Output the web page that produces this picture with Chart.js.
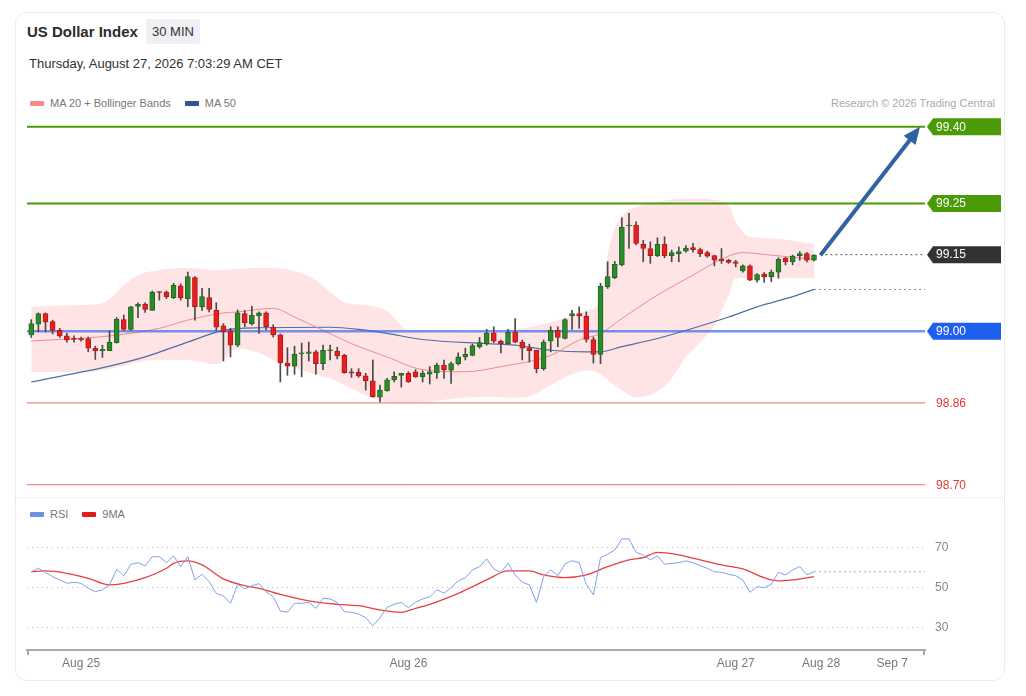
<!DOCTYPE html>
<html lang="en">
<head>
<meta charset="UTF-8">
<title>US Dollar Index</title>
<script src="https://cdn.jsdelivr.net/npm/chart.js@4.4.1/dist/chart.umd.min.js"></script>
<style>
  body { margin: 0; background: #fff; font-family: "Liberation Sans", Arial, sans-serif; color: #333; }
  .card { position: absolute; left: 15px; top: 12px; width: 988px; height: 667px; border: 1px solid #ececec; border-radius: 12px; }
  .title { position: absolute; left: 27px; top: 23px; font-size: 15px; font-weight: bold; line-height: 18px; color: #2b2b2b; }
  .badge { position: absolute; left: 146px; top: 19px; width: 54px; height: 25px; line-height: 25px; text-align: center; font-size: 13px; background: #eef0f3; border-radius: 2px; }
  .date { position: absolute; left: 29px; top: 56px; font-size: 13px; line-height: 16px; }
  .legend { position: absolute; font-size: 11px; line-height: 12px; color: #777; white-space: nowrap; }
  .legend i { display: inline-block; width: 14px; height: 5px; border-radius: 1px; vertical-align: middle; margin: -2px 6px 0 0; }
  .credit { position: absolute; right: 31px; top: 97px; font-size: 11px; line-height: 12px; color: #aaa; }
  .sep { position: absolute; left: 15px; top: 497px; width: 990px; border-top: 1px dotted #e2e2e2; }
  canvas { position: absolute; left: 0; }
  #price { top: 110px; }
  #rsi { top: 498px; }
</style>
</head>
<body>
  <div class="card"></div>
  <div class="title">US Dollar Index</div>
  <div class="badge">30 MIN</div>
  <div class="date">Thursday, August 27, 2026 7:03:29 AM CET</div>
  <div class="legend" style="left:30px; top:97px;"><i style="background:#f28b8b"></i>MA 20 + Bollinger Bands<i style="background:#2f5597; margin-left:14px"></i>MA 50</div>
  <div class="credit">Research © 2026 Trading Central</div>
  <div class="sep"></div>
  <div class="legend" style="left:30px; top:508px;"><i style="background:#6f8fe6"></i>RSI<i style="background:#e41a1a; margin-left:14px"></i>9MA</div>

  <canvas id="price" width="1026" height="388"></canvas>
  <canvas id="rsi" width="1026" height="180"></canvas>

<script>
// 30 min candles, index 0 .. 110
const opens = [
  98.993, 99.014, 99.035, 99.019, 99.002, 98.991, 98.987, 98.986, 98.986, 98.967,
  98.962, 98.962, 98.978, 99.023, 99.004, 99.049, 99.053, 99.041, 99.077, 99.077,
  99.066, 99.089, 99.064, 99.105, 99.048, 99.066, 99.041, 99.011, 99.001, 98.973,
  99.035, 99.015, 99.030, 99.036, 99.008, 98.993, 98.938, 98.932, 98.956, 98.957,
  98.960, 98.937, 98.962, 98.961, 98.953, 98.921, 98.920, 98.913, 98.903, 98.871,
  98.884, 98.905, 98.914, 98.918, 98.921, 98.911, 98.916, 98.919, 98.934, 98.924,
  98.937, 98.950, 98.953, 98.970, 98.976, 98.997, 98.981, 98.976, 98.998, 98.979,
  98.968, 98.963, 98.927, 98.981, 99.002, 98.986, 99.030, 99.035, 99.030, 98.984,
  98.955, 99.087, 99.105, 99.130, 99.206, 99.208, 99.170, 99.162, 99.148, 99.170,
  99.148, 99.152, 99.157, 99.164, 99.160, 99.154, 99.148, 99.141, 99.139, 99.136,
  99.118, 99.128, 99.100, 99.112, 99.107, 99.116, 99.143, 99.136, 99.148, 99.152,
  99.139
];
const highs = [
  99.023, 99.036, 99.036, 99.022, 99.006, 98.996, 98.991, 98.989, 98.989, 98.971,
  98.973, 99.001, 99.027, 99.032, 99.049, 99.056, 99.056, 99.079, 99.078, 99.079,
  99.094, 99.093, 99.116, 99.107, 99.084, 99.084, 99.056, 99.015, 99.006, 99.042,
  99.041, 99.049, 99.038, 99.038, 99.013, 98.995, 98.968, 98.971, 98.977, 98.979,
  98.963, 98.973, 98.973, 98.969, 98.955, 98.927, 98.927, 98.918, 98.944, 98.895,
  98.908, 98.921, 98.918, 98.921, 98.925, 98.923, 98.931, 98.938, 98.944, 98.940,
  98.958, 98.967, 98.975, 98.988, 99.004, 99.009, 98.983, 99.004, 99.025, 98.983,
  98.975, 98.963, 98.983, 99.009, 99.009, 99.025, 99.041, 99.048, 99.038, 98.989,
  99.094, 99.136, 99.137, 99.222, 99.231, 99.214, 99.178, 99.175, 99.183, 99.185,
  99.159, 99.165, 99.168, 99.172, 99.163, 99.157, 99.149, 99.162, 99.141, 99.139,
  99.130, 99.130, 99.113, 99.115, 99.120, 99.144, 99.145, 99.149, 99.156, 99.154,
  99.150
];
const lows = [
  98.988, 98.999, 98.999, 98.995, 98.988, 98.979, 98.979, 98.981, 98.960, 98.945,
  98.949, 98.962, 98.977, 99.002, 99.002, 99.027, 99.037, 99.041, 99.061, 99.064,
  99.064, 99.061, 99.048, 99.022, 99.041, 99.038, 99.002, 98.942, 98.950, 98.970,
  99.009, 99.012, 98.996, 99.003, 98.989, 98.901, 98.914, 98.916, 98.911, 98.942,
  98.916, 98.925, 98.944, 98.946, 98.918, 98.910, 98.910, 98.885, 98.871, 98.862,
  98.883, 98.901, 98.891, 98.900, 98.910, 98.901, 98.897, 98.908, 98.908, 98.898,
  98.934, 98.944, 98.952, 98.967, 98.973, 98.978, 98.958, 98.975, 98.978, 98.944,
  98.940, 98.919, 98.924, 98.960, 98.970, 98.985, 99.004, 99.006, 98.979, 98.938,
  98.937, 99.084, 99.103, 99.128, 99.162, 99.169, 99.136, 99.133, 99.146, 99.144,
  99.136, 99.136, 99.155, 99.155, 99.146, 99.145, 99.128, 99.133, 99.133, 99.126,
  99.116, 99.099, 99.096, 99.096, 99.097, 99.104, 99.130, 99.130, 99.139, 99.136,
  99.138
];
const closes = [
  99.015, 99.035, 99.018, 99.002, 98.991, 98.983, 98.984, 98.983, 98.967, 98.962,
  98.965, 98.979, 99.024, 99.004, 99.048, 99.053, 99.043, 99.077, 99.076, 99.068,
  99.090, 99.066, 99.107, 99.048, 99.068, 99.043, 99.008, 98.999, 98.973, 99.036,
  99.017, 99.032, 99.036, 99.009, 98.993, 98.938, 98.932, 98.955, 98.957, 98.960,
  98.937, 98.963, 98.964, 98.952, 98.919, 98.918, 98.913, 98.903, 98.872, 98.885,
  98.905, 98.912, 98.918, 98.901, 98.911, 98.918, 98.921, 98.934, 98.925, 98.937,
  98.950, 98.955, 98.972, 98.978, 98.997, 98.981, 98.976, 98.998, 98.979, 98.967,
  98.962, 98.927, 98.979, 99.002, 98.988, 99.023, 99.035, 99.030, 98.984, 98.955,
  99.088, 99.107, 99.131, 99.204, 99.208, 99.172, 99.162, 99.148, 99.170, 99.148,
  99.154, 99.156, 99.163, 99.160, 99.152, 99.147, 99.139, 99.138, 99.135, 99.133,
  99.128, 99.100, 99.111, 99.107, 99.116, 99.141, 99.136, 99.147, 99.152, 99.139,
  99.149
];

// moving averages and bands, read at candle indices
const ma20Idx = [0, 11, 18, 22, 27, 29, 34, 37, 41, 45, 50, 55, 61, 66, 73, 77, 80, 83, 88, 93, 97, 100, 104, 110];
const ma20 = [98.981, 98.991, 99.006, 99.022, 99.036, 99.038, 99.045, 99.028, 99.002, 98.976, 98.950, 98.925,
              98.921, 98.931, 98.953, 98.983, 98.996, 99.025, 99.071, 99.110, 99.141, 99.154, 99.149, 99.141];
const ma50Idx = [0, 11, 16, 22, 27, 32, 42, 46, 50, 55, 64, 68, 73, 78, 80, 83, 88, 93, 98, 102, 107, 110];
const ma50 = [98.901, 98.932, 98.950, 98.979, 99.002, 99.007, 99.008, 99.004, 98.996, 98.984, 98.976,
              98.973, 98.963, 98.960, 98.960, 98.970, 98.986, 99.006, 99.028, 99.048, 99.068, 99.082];
const bandIdx = [0, 5, 10, 13, 15, 18, 22, 26, 29, 32, 35, 38, 40, 42, 44, 47, 50, 53, 56, 60, 64,
                 67, 70, 73, 76, 78, 80, 81, 82, 83, 85, 88, 90, 92, 94, 96, 98, 99, 101, 104, 107, 110];
const bandUpper = [99.048, 99.051, 99.055, 99.090, 99.110, 99.120, 99.124, 99.120, 99.122, 99.124,
                   99.123, 99.114, 99.100, 99.077, 99.057, 99.051, 99.040, 99.002, 99.000, 98.999,
                   98.998, 99.002, 99.008, 99.018, 99.030, 99.040, 99.061, 99.150, 99.200, 99.225,
                   99.243, 99.253, 99.258, 99.260, 99.260, 99.257, 99.247, 99.214, 99.185, 99.182,
                   99.177, 99.171];
const bandLower = [98.921, 98.920, 98.924, 98.932, 98.940, 98.944, 98.944, 98.936, 98.966, 98.958,
                   98.937, 98.924, 98.915, 98.908, 98.895, 98.875, 98.862, 98.861, 98.863, 98.869,
                   98.872, 98.870, 98.873, 98.895, 98.916, 98.924, 98.916, 98.905, 98.895, 98.885,
                   98.871, 98.883, 98.908, 98.950, 98.979, 99.012, 99.071, 99.104, 99.105, 99.104,
                   99.104, 99.104];

// RSI panel
const rsi = [
  57.8, 59.5, 57.5, 55.3, 53.7, 52.0, 52.5, 52.0, 49.5, 47.8,
  48.7, 51.2, 59.0, 55.7, 61.5, 62.3, 60.7, 65.3, 65.3, 62.3,
  65.7, 60.3, 65.3, 53.7, 56.5, 52.8, 47.0, 45.7, 42.0, 51.5,
  49.2, 50.8, 51.8, 47.8, 45.3, 38.2, 37.5, 42.0, 42.0, 42.5,
  39.5, 44.5, 44.2, 42.5, 37.8, 37.5, 36.7, 34.8, 30.8, 34.8,
  40.0, 41.5, 42.5, 39.8, 42.5, 44.2, 45.2, 48.8, 47.0, 49.8,
  53.2, 54.8, 58.7, 60.3, 64.2, 59.2, 57.5, 62.0, 56.2, 52.5,
  51.2, 42.5, 55.3, 58.7, 55.8, 61.7, 63.3, 62.3, 51.5, 46.2,
  64.8, 66.5, 68.7, 74.2, 74.2, 67.5, 66.2, 63.7, 65.7, 61.5,
  62.0, 62.3, 63.2, 62.3, 60.8, 59.5, 57.8, 57.5, 56.5, 55.8,
  53.7, 47.5, 50.3, 49.8, 51.5, 57.5, 56.2, 58.7, 60.3, 56.2,
  57.8
];
const rsiMaIdx = [0, 2, 5, 8, 11, 13, 16, 19, 20, 22, 24, 27, 30, 32, 35, 39, 43, 46, 49, 52, 54,
                  56, 60, 64, 67, 70, 72, 75, 78, 81, 84, 86, 88, 91, 94, 97, 100, 103, 105, 107, 110];
const rsiMa = [57.8, 58.2, 57.0, 54.5, 51.2, 52.0, 54.8, 59.5, 62.0, 63.2, 61.2, 54.2, 50.8, 49.5,
               46.5, 43.2, 41.5, 40.8, 38.7, 37.5, 39.5, 41.5, 47.0, 53.7, 58.2, 58.2, 56.2, 54.8,
               56.2, 60.3, 63.7, 64.8, 67.5, 66.2, 63.7, 61.2, 59.2, 54.8, 53.2, 53.7, 55.3];
const rsiTicks = [30, 50, 70];

// levels and forecast arrow
const levels = [99.40, 99.25, 99.15, 99.00, 98.86, 98.70];
const arrowFrom = [110.9, 99.149];
const arrowTo = [124.9, 99.40];

// x axis
const dateTicks = [7, 53, 99, 111, 121];
const dateLabels = ['Aug 25', 'Aug 26', 'Aug 27', 'Aug 28', 'Sep 7'];

const X_MIN = -0.6, X_MAX = 125.6;
const FONT = '"Liberation Sans", Arial, sans-serif';
Chart.defaults.font.family = FONT;

const idx = opens.map((_, i) => i);
const up = idx.map(i => closes[i] >= opens[i]);
const pts = (xs, ys) => xs.map((x, i) => ({ x, y: ys[i] }));
const hline = (v, from) => [{ x: from, y: v }, { x: X_MAX, y: v }];
const last = idx.length - 1;

const levelTags = [
  { v: levels[0], fill: '#4a9b07' },
  { v: levels[1], fill: '#4a9b07' },
  { v: levels[2], fill: '#333333' },
  { v: levels[3], fill: '#1f5ff0' },
  { v: levels[4], fill: null },
  { v: levels[5], fill: null }
];

const tagPlugin = {
  id: 'tags',
  afterDraw(chart) {
    const { ctx, chartArea } = chart;
    const ys = chart.scales.y;
    const x0 = chartArea.right + 2, x1 = 1001, h = 8.5;
    ctx.save();
    ctx.font = '12px ' + FONT;
    ctx.textBaseline = 'middle';
    levelTags.forEach(t => {
      const py = ys.getPixelForValue(t.v);
      if (t.fill) {
        ctx.fillStyle = t.fill;
        ctx.beginPath();
        ctx.moveTo(x0, py);
        ctx.lineTo(x0 + 6, py - h);
        ctx.lineTo(x1, py - h);
        ctx.lineTo(x1, py + h);
        ctx.lineTo(x0 + 6, py + h);
        ctx.closePath();
        ctx.fill();
        ctx.fillStyle = '#fff';
      } else {
        ctx.fillStyle = '#e53935';
      }
      ctx.fillText(t.v.toFixed(2), x0 + 9, py + 0.5);
    });
    ctx.restore();
  }
};

const arrowPlugin = {
  id: 'arrow',
  afterDatasetsDraw(chart) {
    const { ctx } = chart;
    const xs = chart.scales.x, ys = chart.scales.y;
    const ax = xs.getPixelForValue(arrowFrom[0]), ay = ys.getPixelForValue(arrowFrom[1]);
    const bx = xs.getPixelForValue(arrowTo[0]), by = ys.getPixelForValue(arrowTo[1]);
    const ang = Math.atan2(by - ay, bx - ax);
    const head = 17, half = 7.5;
    const hx = bx - head * Math.cos(ang), hy = by - head * Math.sin(ang);
    ctx.save();
    ctx.strokeStyle = '#3062a4';
    ctx.fillStyle = '#3062a4';
    ctx.lineWidth = 4;
    ctx.beginPath();
    ctx.moveTo(ax, ay);
    ctx.lineTo(hx + 2 * Math.cos(ang), hy + 2 * Math.sin(ang));
    ctx.stroke();
    ctx.beginPath();
    ctx.moveTo(bx, by);
    ctx.lineTo(hx + half * Math.sin(ang), hy - half * Math.cos(ang));
    ctx.lineTo(hx - half * Math.sin(ang), hy + half * Math.cos(ang));
    ctx.closePath();
    ctx.fill();
    ctx.restore();
  }
};

// little end marks on the time axis
const axisEnds = {
  id: 'axisEnds',
  afterDraw(chart) {
    const { ctx, chartArea } = chart;
    ctx.save();
    ctx.strokeStyle = '#aaa';
    ctx.lineWidth = 2;
    ctx.beginPath();
    [chartArea.left + 1, chartArea.right - 1].forEach(x => {
      ctx.moveTo(x, chartArea.bottom);
      ctx.lineTo(x, chartArea.bottom + 5);
    });
    ctx.stroke();
    ctx.restore();
  }
};

const flat = { pointRadius: 0, fill: false, tension: 0 };

new Chart(document.getElementById('price'), {
  type: 'line',
  data: {
    datasets: [
      { data: pts(bandIdx, bandUpper), borderWidth: 0, pointRadius: 0, fill: '+1',
        backgroundColor: 'rgba(248,90,90,0.16)', cubicInterpolationMode: 'monotone', order: 10 },
      { data: pts(bandIdx, bandLower), borderWidth: 0, pointRadius: 0, fill: false,
        cubicInterpolationMode: 'monotone', order: 10 },
      { data: pts(ma20Idx, ma20), borderColor: '#f08a8a', borderWidth: 1, pointRadius: 0,
        cubicInterpolationMode: 'monotone', order: 8 },
      { data: pts(ma50Idx, ma50), borderColor: '#4d6fa8', borderWidth: 1.2, pointRadius: 0,
        cubicInterpolationMode: 'monotone', order: 8 },
      { data: hline(ma50[ma50.length - 1], ma50Idx[ma50Idx.length - 1]), borderColor: '#6a86b8',
        borderWidth: 1, borderDash: [2, 3], ...flat, order: 8 },
      { data: hline(levels[0], X_MIN), borderColor: '#4a9b07', borderWidth: 2, ...flat, order: 6 },
      { data: hline(levels[1], X_MIN), borderColor: '#4a9b07', borderWidth: 2, ...flat, order: 6 },
      { data: hline(levels[2], arrowFrom[0]), borderColor: '#555', borderWidth: 1, borderDash: [2, 3], ...flat, order: 6 },
      { data: hline(levels[3], X_MIN), borderColor: 'rgba(60,105,230,0.7)', borderWidth: 2.5, ...flat, order: 6 },
      { data: hline(levels[4], X_MIN), borderColor: '#ea6a6a', borderWidth: 1, ...flat, order: 6 },
      { data: hline(levels[5], X_MIN), borderColor: '#ea6a6a', borderWidth: 1, ...flat, order: 6 },
      { type: 'bar', data: idx.map(i => ({ x: i, y: [lows[i], highs[i]] })), backgroundColor: '#4a4a4a',
        barThickness: 1, grouped: false, order: 4 },
      { type: 'bar', data: idx.map(i => ({ x: i, y: [opens[i], closes[i]] })),
        backgroundColor: up.map(u => u ? '#2c8a2c' : '#e42020'),
        borderColor: up.map(u => u ? '#1c6a1c' : '#b51818'),
        borderWidth: 1, borderSkipped: false, barThickness: 5, minBarLength: 1, grouped: false, order: 2 }
    ]
  },
  options: {
    responsive: false,
    animation: false,
    events: [],
    layout: { padding: { left: 27, right: 101, top: 0, bottom: 0 } },
    plugins: { legend: { display: false }, tooltip: { enabled: false } },
    scales: {
      x: { type: 'linear', min: X_MIN, max: X_MAX, offset: false, display: false },
      y: { type: 'linear', min: 98.674, max: 99.433, display: false }
    }
  },
  plugins: [arrowPlugin, tagPlugin]
});

new Chart(document.getElementById('rsi'), {
  type: 'line',
  data: {
    datasets: [
      { data: idx.map(i => ({ x: i, y: rsi[i] })), borderColor: '#819fe8', borderWidth: 1, pointRadius: 0, tension: 0 },
      { data: pts(rsiMaIdx, rsiMa), borderColor: '#e84040', borderWidth: 1.3, pointRadius: 0,
        cubicInterpolationMode: 'monotone' },
      { data: hline(rsi[last], last), borderColor: '#9fb3ec', borderWidth: 1, borderDash: [2, 3], ...flat }
    ]
  },
  options: {
    responsive: false,
    animation: false,
    events: [],
    layout: { padding: { left: 27, right: 0, top: 0, bottom: 0 } },
    plugins: { legend: { display: false }, tooltip: { enabled: false } },
    scales: {
      x: {
        type: 'linear', min: X_MIN, max: X_MAX, offset: false,
        afterBuildTicks: s => { s.ticks = dateTicks.map(v => ({ value: v })); },
        afterFit: s => { s.height = 28; s.paddingLeft = 0; s.paddingRight = 0; },
        ticks: { autoSkip: false, maxRotation: 0, padding: 6, color: '#777', font: { size: 12 },
                 callback: v => dateLabels[dateTicks.indexOf(v)] },
        grid: { display: false, drawTicks: false },
        border: { color: '#aaa', width: 2 }
      },
      y: {
        type: 'linear', position: 'right', min: 18.65, max: 94.65,
        afterBuildTicks: s => { s.ticks = rsiTicks.map(v => ({ value: v })); },
        afterFit: s => { s.width = 101; s.paddingTop = 0; s.paddingBottom = 0; },
        ticks: { padding: 10, color: '#888', font: { size: 12 } },
        grid: { color: '#bdbdbd', drawTicks: false },
        border: { display: false, dash: [1, 4] }
      }
    }
  },
  plugins: [axisEnds]
});
</script>
</body>
</html>
